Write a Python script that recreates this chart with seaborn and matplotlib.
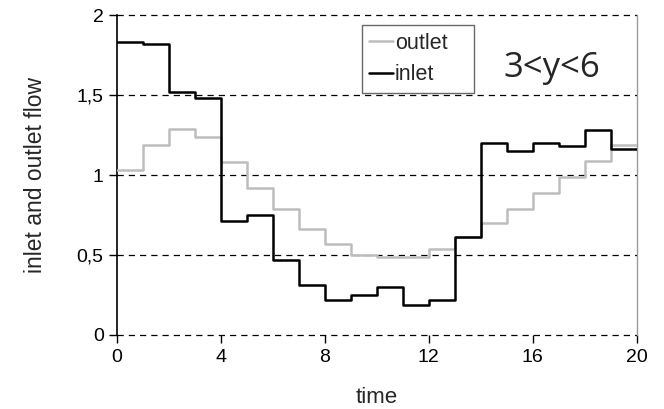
import numpy as np
import pandas as pd
import matplotlib
matplotlib.use("Agg")
import matplotlib.pyplot as plt
import seaborn as sns

# step values, one per time interval [t, t+1)
time = list(range(0, 21))
inlet = [1.83, 1.82, 1.52, 1.48, 0.71, 0.75, 0.47, 0.31, 0.22, 0.25,
         0.30, 0.19, 0.22, 0.61, 1.20, 1.15, 1.20, 1.18, 1.28, 1.16]
outlet = [1.03, 1.19, 1.29, 1.24, 1.08, 0.92, 0.79, 0.66, 0.57, 0.50,
          0.49, 0.49, 0.54, 0.61, 0.70, 0.79, 0.89, 0.99, 1.09, 1.19]
xticks = [0, 4, 8, 12, 16, 20]
yticks = [0, 0.5, 1, 1.5, 2]
ytick_labels = ["0", "0,5", "1", "1,5", "2"]

# repeat last value so the final step reaches t=20
df = pd.DataFrame({
    "time": time + time,
    "flow": outlet + [outlet[-1]] + inlet + [inlet[-1]],
    "series": ["outlet"] * 21 + ["inlet"] * 21,
})

sns.set_style("white")
plt.rcParams["font.family"] = ["Liberation Sans", "DejaVu Sans"]

fig = plt.figure(figsize=(6.64, 4.09), dpi=100)
ax = fig.add_axes([0.176, 0.181, 0.783, 0.782])

sns.lineplot(data=df, x="time", y="flow", hue="series",
             palette={"outlet": "#bdbdbd", "inlet": "black"},
             drawstyle="steps-post", linewidth=1.8, ax=ax, zorder=3)

# dashed horizontal grid
for y in yticks:
    ax.axhline(y, color="black", linestyle=(0, (5, 4)), linewidth=0.9,
               zorder=1, clip_on=False)

ax.set_xlim(0, 20)
ax.set_ylim(0, 2)
ax.set_xticks(xticks)
ax.set_yticks(yticks)
ax.set_yticklabels(ytick_labels)
ax.tick_params(axis="both", direction="out", length=6, width=1,
               labelsize=14, colors="black", bottom=True, left=True)
ax.tick_params(axis="x", pad=4)

for s in ["top", "bottom"]:
    ax.spines[s].set_visible(False)
ax.spines["left"].set_color("black")
ax.spines["left"].set_linewidth(1.2)
ax.spines["right"].set_color("#999999")
ax.spines["right"].set_linewidth(1)

ax.set_xlabel("time", fontsize=16)
ax.set_ylabel("inlet and outlet flow", fontsize=16.5)
ax.xaxis.set_label_coords(0.5, -0.197)
ax.xaxis.label.set_va("center")
ax.yaxis.set_label_coords(-0.156, 0.5)
ax.yaxis.label.set_va("center")

# legend box stretched to the reference width
leg = ax.legend(loc="upper left", bbox_to_anchor=(0.471, 0.769, 0.215, 0.2),
                mode="expand", fontsize=15.5, frameon=True, fancybox=False,
                handlelength=1.1, handletextpad=0.1, borderpad=0.35,
                labelspacing=0.5, borderaxespad=0)
leg.get_frame().set_edgecolor("#444444")
leg.get_frame().set_linewidth(1)

ax.text(0.837, 0.806, "3<y<6", transform=ax.transAxes, fontsize=25,
        family=["Open Sans", "DejaVu Sans"], ha="center", va="baseline")

fig.savefig("out.png", dpi=100)
